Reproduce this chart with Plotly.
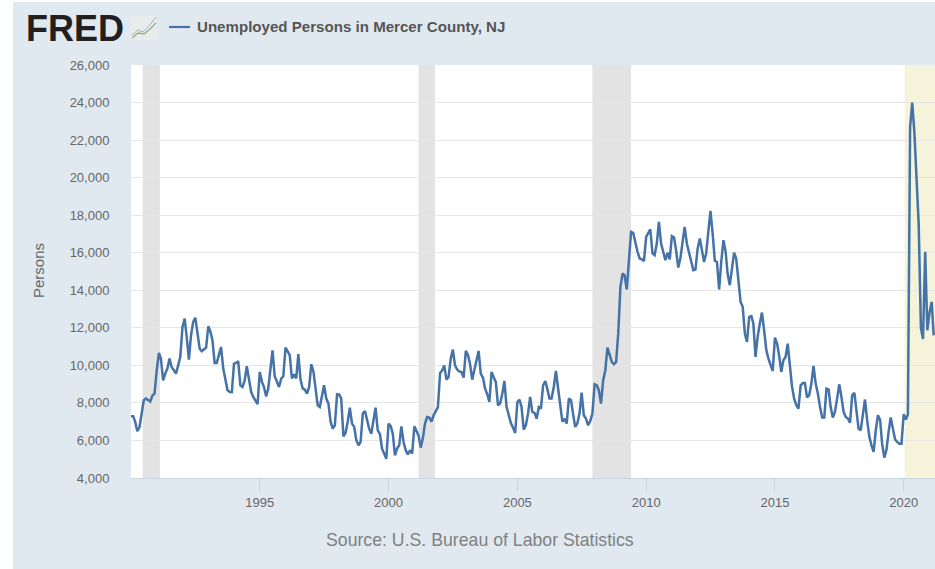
import pandas as pd
import plotly.graph_objects as go

W, H = 935, 569
L, R, T, B = 131, 935, 65, 478

y1990 = [7290, 7290, 7000, 6490, 6700, 7340, 8140, 8230, 8140, 8070, 8400, 8490]
y1991 = [9740, 10660, 10360, 9200, 9560, 9830, 10360, 9900, 9740, 9560, 10000, 10450]
y1992 = [12050, 12490, 11500, 10300, 11600, 12310, 12540, 11690, 10890, 10750, 10840, 10950]
y1993 = [12080, 11780, 11340, 10130, 10130, 10630, 10980, 9830, 9300, 8670, 8580, 8570]
y1994 = [10090, 10130, 10230, 8940, 8850, 9200, 9950, 9200, 8580, 8320, 8140, 7930]
y1995 = [9650, 9120, 8850, 8350, 8760, 9740, 10800, 9420, 9120, 8850, 9300, 9420]
y1996 = [10950, 10770, 10540, 9300, 9520, 9300, 10600, 9240, 8760, 8710, 8490, 8850]
y1997 = [10060, 9650, 8850, 7870, 7780, 8320, 8940, 8230, 7960, 7000, 6630, 6810]
y1998 = [8460, 8440, 8230, 6220, 6400, 7000, 7750, 6900, 6720, 6010, 5740, 5920]
y1999 = [7430, 7570, 7160, 6630, 6360, 7160, 7750, 6540, 6330, 5560, 5300, 5030]
y2000 = [6900, 6760, 6360, 5210, 5570, 5750, 6750, 5920, 5480, 5260, 5480, 5300]
y2001 = [6750, 6540, 6270, 5620, 6100, 6900, 7250, 7220, 7000, 7340, 7610, 7780]
y2002 = [9600, 9740, 10000, 9240, 9380, 10360, 10840, 10000, 9770, 9680, 9650, 9350]
y2003 = [10770, 10540, 10090, 9240, 9740, 10360, 10770, 9560, 9350, 8760, 8460, 8050]
y2004 = [9650, 9350, 9120, 7870, 7960, 8490, 9170, 7780, 7340, 6930, 6680, 6400]
y2005 = [8050, 8170, 7780, 6580, 6810, 7430, 8320, 7520, 7470, 7160, 7780, 7700]
y2006 = [8940, 9170, 8760, 8230, 8230, 8850, 9700, 8760, 7870, 7000, 7160, 6900]
y2007 = [8230, 8140, 7430, 6720, 6900, 7430, 8550, 7340, 7160, 6810, 7040, 7430]
y2008 = [8990, 8940, 8670, 7960, 9200, 9740, 10950, 10540, 10180, 10060, 10180, 11690]
y2009 = [14180, 14890, 14800, 14040, 15600, 17110, 17060, 16490, 16050, 15690, 15650, 15550]
y2010 = [16850, 17060, 17240, 15960, 15870, 16490, 17640, 16490, 15960, 15600, 16000, 15640]
y2011 = [16880, 16810, 16140, 15210, 15690, 16670, 17380, 16490, 16050, 15510, 15070, 15100]
y2012 = [16220, 16760, 16050, 15510, 15960, 17200, 18230, 17020, 15570, 15510, 14040, 15510]
y2013 = [16670, 16050, 14890, 14270, 15160, 16010, 15690, 14540, 13380, 13120, 11700, 11250]
y2014 = [12580, 12620, 12230, 10450, 11520, 12230, 12810, 11870, 10810, 10360, 10010, 9700]
y2015 = [11480, 11160, 10540, 9650, 10270, 10450, 11160, 9920, 8850, 8230, 7880, 7700]
y2016 = [8940, 9060, 9060, 8290, 8410, 9030, 9970, 9030, 8500, 7790, 7220, 7220]
y2017 = [8760, 8710, 7790, 7220, 7520, 8230, 8990, 8320, 7520, 7250, 7170, 6940]
y2018 = [8410, 8530, 7610, 6630, 6540, 7520, 8180, 7080, 6190, 5740, 5390, 6540]
y2019 = [7340, 7080, 5830, 5090, 5480, 6460, 7220, 6630, 6050, 5920, 5830, 5830]
y2020 = [7400, 7110, 7400, 22700, 24000, 22400, 19500, 17500, 12000, 11400, 16050, 11870]
y2021 = [12800, 13380, 11600]

unemployed = (y1990 + y1991 + y1992 + y1993 + y1994 + y1995 + y1996 + y1997 + y1998 + y1999
              + y2000 + y2001 + y2002 + y2003 + y2004 + y2005 + y2006 + y2007 + y2008 + y2009
              + y2010 + y2011 + y2012 + y2013 + y2014 + y2015 + y2016 + y2017 + y2018 + y2019
              + y2020 + y2021)
months = pd.date_range("1990-01-01", periods=len(unemployed), freq="MS")

recessions = [("1990-06-15", "1991-02-15"), ("2001-03-01", "2001-10-20"), ("2007-12-01", "2009-06-01")]
highlight = ("2020-01-15", "2021-03-20")
y_ticks = list(range(4000, 26001, 2000))
x_ticks = ["1995-01-01", "2000-01-01", "2005-01-01", "2010-01-01", "2015-01-01", "2020-01-01"]
x_labels = ["1995", "2000", "2005", "2010", "2015", "2020"]
FONT = "Liberation Sans, Arial, sans-serif"


def px(x):
    return (x - L) / (R - L)


def py(y):
    return (B - y) / (B - T)


def paper_rect(x0, y0, x1, y1, fill):
    return dict(type="rect", xref="paper", yref="paper", x0=px(x0), x1=px(x1), y0=py(y0), y1=py(y1),
                fillcolor=fill, line_width=0, layer="above")


def paper_line(points, color, width):
    path = "M" + " L".join(f"{px(a):.5f},{py(b):.5f}" for a, b in points)
    return dict(type="path", xref="paper", yref="paper", path=path,
                line=dict(color=color, width=width), layer="above")


shapes = [dict(type="rect", xref="x", yref="paper", x0=a, x1=b, y0=0, y1=1,
               fillcolor="#e3e3e3", line_width=0, layer="below") for a, b in recessions]
shapes.append(dict(type="rect", xref="x", yref="paper", x0=highlight[0], x1=highlight[1], y0=0, y1=1,
                   fillcolor="#f5f4da", line_width=0, layer="below"))
# page margin strips, the logo's small chart icon, and the key's line sample
shapes += [
    paper_rect(0, 0, 13, H, "#ffffff"),
    paper_rect(0, 0, W, 2, "#ffffff"),
    paper_rect(131, 16, 157, 40, "#e9ecea"),
    paper_line([(132, 35), (138, 30), (143, 32), (149, 26), (156, 17)], "#9db4c8", 1),
    paper_line([(132, 38), (138, 33), (144, 34), (150, 29), (156, 23)], "#8fae84", 1.3),
    paper_line([(169, 27), (190, 27)], "#4572a7", 2.2),
]

fig = go.Figure()
fig.add_trace(go.Scatter(
    x=months, y=unemployed, mode="lines", name="Unemployed Persons in Mercer County, NJ",
    line=dict(color="#4572a7", width=2.5), hoverinfo="x+y",
))
fig.update_layout(
    width=W, height=H, margin=dict(l=L, r=W - R, t=T, b=H - B, pad=0),
    paper_bgcolor="#e1e9f0", plot_bgcolor="#ffffff",
    font=dict(family=FONT, color="#666666", size=12),
    showlegend=False,
    xaxis=dict(type="date", range=["1990-01-01", "2021-03-20"], tickvals=x_ticks, ticktext=x_labels,
               showgrid=False, showline=True, linecolor="#c8d4e0", linewidth=1,
               ticks="outside", ticklen=12, tickcolor="#c8d4e0", tickwidth=1,
               tickfont=dict(size=13, color="#666666")),
    yaxis=dict(range=[4000, 26000], tickvals=y_ticks, tickformat=",d", showgrid=True,
               gridcolor="#e6e6e6", gridwidth=1, zeroline=False, showline=False,
               ticks="outside", ticklen=18, tickcolor="rgba(0,0,0,0)",
               tickfont=dict(size=13, color="#666666")),
    shapes=shapes,
    annotations=[
        dict(text="FRED", xref="paper", yref="paper", x=px(24), y=py(29), xanchor="left", yanchor="middle",
             showarrow=False, font=dict(size=36, color="#231f20", family=FONT, weight=900)),
        dict(text="Unemployed Persons in Mercer County, NJ", xref="paper", yref="paper", x=px(195), y=py(27),
             xanchor="left", yanchor="middle", showarrow=False,
             font=dict(size=15.1, color="#555555", family=FONT, weight="bold")),
        dict(text="Persons", xref="paper", yref="paper", x=px(38), y=py(271), textangle=-90,
             xanchor="center", yanchor="middle", showarrow=False, font=dict(size=15, color="#666666")),
        dict(text="Source: U.S. Bureau of Labor Statistics", xref="paper", yref="paper", x=px(480), y=py(540),
             xanchor="center", yanchor="middle", showarrow=False, font=dict(size=17.7, color="#808080")),
    ],
)
fig.write_html("out.html", config={"displayModeBar": False},
               post_script="document.body.style.margin='0';document.body.style.overflow='hidden';")
